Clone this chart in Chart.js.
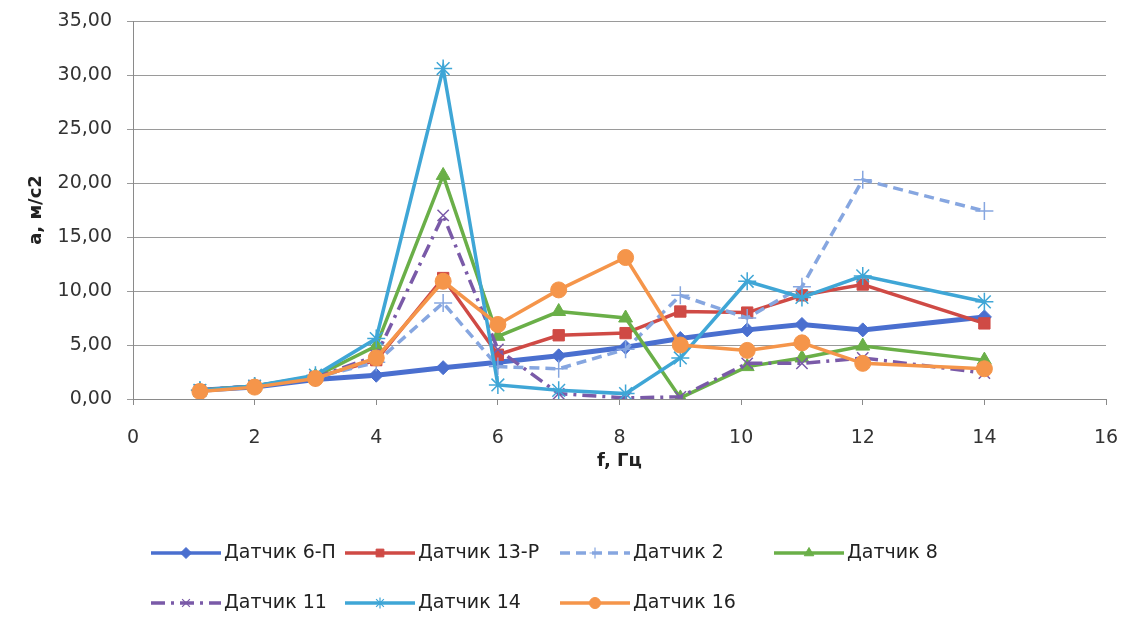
<!DOCTYPE html>
<html>
<head>
<meta charset="utf-8">
<script src="https://cdn.jsdelivr.net/npm/chart.js@4"></script>
<style>
  body { margin: 0; background: #fff; }
  canvas { display: block; }
</style>
</head>
<body>
<canvas id="grafico" width="1126" height="619"></canvas>
<script>
// частоты, Гц
const frecuencias = [1.1, 2, 3, 4, 5.1, 6, 7, 8.1, 9, 10.1, 11, 12, 14];

const datchik6P  = [0.8, 1.1, 1.8, 2.2, 2.9, 3.4, 4.0, 4.8, 5.6, 6.4, 6.9, 6.4, 7.6];
const datchik13R = [0.8, 1.2, 2.0, 3.6, 11.2, 4.1, 5.9, 6.1, 8.1, 8.0, 9.6, 10.6, 7.0];
const datchik2   = [0.8, 1.2, 2.0, 3.4, 8.9, 3.0, 2.8, 4.6, 9.6, 7.5, 10.4, 20.3, 17.4];
const datchik8   = [0.8, 1.2, 2.1, 4.9, 20.7, 5.8, 8.1, 7.5, 0.1, 3.0, 3.8, 4.9, 3.6];
const datchik11  = [0.8, 1.2, 2.0, 4.0, 17.0, 4.6, 0.5, 0.1, 0.2, 3.3, 3.3, 3.8, 2.4];
const datchik14  = [0.8, 1.2, 2.2, 5.6, 30.6, 1.3, 0.8, 0.5, 3.8, 10.9, 9.4, 11.4, 9.0];
const datchik16  = [0.7, 1.1, 1.9, 3.8, 10.9, 6.9, 10.1, 13.1, 5.0, 4.5, 5.2, 3.3, 2.8];

const etiquetas = ['Датчик 6-П', 'Датчик 13-Р', 'Датчик 2', 'Датчик 8', 'Датчик 11', 'Датчик 14', 'Датчик 16'];
const series = [datchik6P, datchik13R, datchik2, datchik8, datchik11, datchik14, datchik16];

const estilos = [
    { color: '#4a6fcf', punto: 'rectRot', radio: 7, ancho: 5, guion: [] },
    { color: '#cf4a45', punto: 'rect', radio: 8, ancho: 3.5, guion: [] },
    { color: '#86a6e0', punto: 'cross', radio: 9, ancho: 3.5, guion: [10, 6] },
    { color: '#6aaf48', punto: 'triangle', radio: 8, ancho: 3.5, guion: [] },
    { color: '#7a5aa8', punto: 'crossRot', radio: 8, ancho: 3.5, guion: [14, 6, 3, 6] },
    { color: '#3fa6d6', punto: 'star', radio: 9, ancho: 3.5, guion: [] },
    { color: '#f5954a', punto: 'circle', radio: 8, ancho: 3.5, guion: [] }
];

const esLinea = p => p === 'cross' || p === 'crossRot' || p === 'star';

const datasets = series.map((valores, i) => ({
    label: etiquetas[i],
    data: valores.map((v, j) => ({ x: frecuencias[j], y: v })),
    borderColor: estilos[i].color,
    backgroundColor: estilos[i].color,
    borderWidth: estilos[i].ancho,
    borderDash: estilos[i].guion,
    pointStyle: estilos[i].punto,
    pointRadius: estilos[i].radio,
    pointBorderWidth: esLinea(estilos[i].punto) ? 1.5 : 1,
    pointBorderColor: estilos[i].color,
    pointBackgroundColor: estilos[i].color,
    tension: 0,
    order: series.length - i
}));

const fuente = 'DejaVu Sans';

// leyenda en dos filas como en Excel
const leyenda = {
    id: 'leyenda',
    afterDraw(chart) {
        const c = chart.ctx;
        const columnas = [151, 345, 560, 774];
        const filas = [553, 603];
        c.save();
        c.textBaseline = 'middle';
        chart.data.datasets.forEach((ds, i) => {
            const x = columnas[i < 4 ? i : i - 4];
            const y = filas[i < 4 ? 0 : 1];
            c.strokeStyle = ds.borderColor;
            c.lineWidth = 3.5;
            c.setLineDash(ds.borderDash);
            c.beginPath();
            c.moveTo(x, y);
            c.lineTo(x + 70, y);
            c.stroke();
            c.setLineDash([]);
            c.fillStyle = ds.borderColor;
            c.lineWidth = esLinea(ds.pointStyle) ? 1.2 : 1;
            Chart.helpers.drawPoint(c, {
                pointStyle: ds.pointStyle,
                radius: 5.5,
                rotation: 0,
                borderWidth: c.lineWidth
            }, x + 35, y);
            c.font = '19px "' + fuente + '"';
            c.fillStyle = '#222';
            c.fillText(ds.label, x + 73, y);
        });
        c.restore();
    }
};

const fondo = {
    id: 'fondo',
    beforeDraw(chart) {
        const c = chart.ctx;
        c.save();
        c.fillStyle = '#fff';
        c.fillRect(0, 0, chart.width, chart.height);
        c.restore();
    }
};

const ctx = document.getElementById('grafico').getContext('2d');

const grafico = new Chart(ctx, {
    type: 'line',
    data: { datasets: datasets },
    options: {
        responsive: false,
        animation: false,
        layout: { padding: { top: 21, right: 0, bottom: 140, left: 0 } },
        plugins: {
            legend: { display: false },
            tooltip: { enabled: false }
        },
        scales: {
            x: {
                type: 'linear',
                min: 0,
                max: 16,
                ticks: {
                    stepSize: 2,
                    color: '#333',
                    padding: 22,
                    font: { family: fuente, size: 19 }
                },
                grid: { drawOnChartArea: false, drawTicks: true, tickLength: 6, color: '#8a8a8a' },
                border: { color: '#8a8a8a' },
                title: {
                    display: true,
                    text: 'f, Гц',
                    color: '#222',
                    padding: { top: 4, bottom: 7 },
                    font: { family: fuente, size: 18, weight: 'bold' }
                },
                afterFit(scale) {
                    scale.height = 80;
                    scale.paddingLeft = 0;
                    scale.paddingRight = 20;
                }
            },
            y: {
                min: 0,
                max: 35,
                ticks: {
                    stepSize: 5,
                    color: '#333',
                    padding: 15,
                    font: { family: fuente, size: 19 },
                    callback: v => v.toFixed(2).replace('.', ',')
                },
                grid: { color: '#9a9a9a', tickLength: 6 },
                border: { color: '#8a8a8a' },
                title: {
                    display: true,
                    text: 'a, м/с2',
                    color: '#222',
                    padding: { top: 26, bottom: 0 },
                    font: { family: fuente, size: 18, weight: 'bold' }
                },
                afterFit(scale) {
                    scale.width = 133;
                    scale.paddingTop = 0;
                    scale.paddingBottom = 0;
                }
            }
        }
    },
    plugins: [fondo, leyenda]
});
</script>
</body>
</html>
